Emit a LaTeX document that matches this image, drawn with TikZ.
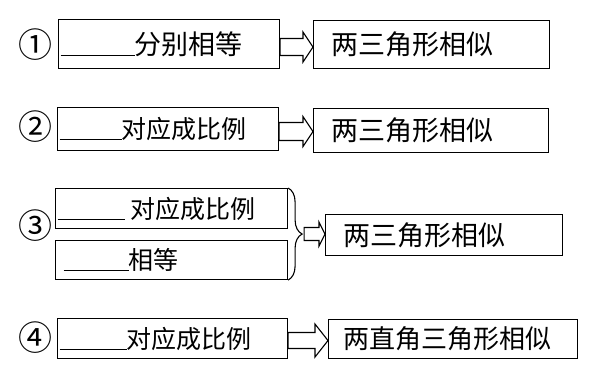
\documentclass[tikz,border=0pt]{standalone}
\usepackage{fontspec}
\setmainfont{Noto Sans CJK SC}
\usepackage{tikz}
\usetikzlibrary{calc, decorations.pathreplacing}

\newcommand{\blank}[1]{\rule[-1.5pt]{#1}{0.9pt}}
% hollow block arrow: from, to, head length, shaft half height, head half height
\newcommand{\hollowarrow}[5]{%
  \draw[arrowline] let \p1=(#1), \p2=(#2) in
    (\x1,\y1+#4) -- (\x2-#3,\y1+#4) -- (\x2-#3,\y1+#5) -- (\x2,\y1)
    -- (\x2-#3,\y1-#5) -- (\x2-#3,\y1-#4) -- (\x1,\y1-#4) -- cycle;}

\tikzset{
  box/.style={draw, line width=1.1pt, anchor=north west, inner ysep=0pt,
    align=left, font=\fontsize{25}{30}\selectfont},
  lbox/.style={box, inner xsep=2pt},
  rbox/.style={box, inner xsep=18pt, font=\fontsize{27}{32}\selectfont},
  numlabel/.style={inner sep=0pt, font=\fontsize{34}{38}\selectfont},
  arrowline/.style={line width=1.1pt, fill=white, line join=miter}
}

\begin{document}
\begin{tikzpicture}[x=1pt, y=1pt]
    \useasboundingbox (0,0) rectangle (598,370);

    % row 1
    \node[numlabel] (n1) at (36,325) {①};
    \node[lbox, minimum width=221pt, minimum height=49pt, text width=217pt,
      font=\fontsize{27}{32}\selectfont] (l1) at (58,351) {\blank{74pt}分别相等};
    \node[rbox, minimum width=236pt, minimum height=48pt, text width=200pt] (r1) at (313,350) {两三角形相似};
    \hollowarrow{[yshift=-3pt]l1.east}{r1.west}{10pt}{8.5pt}{15pt}

    % row 2
    \node[numlabel] (n2) at (36,243) {②};
    \node[lbox, minimum width=221pt, minimum height=43pt, text width=217pt] (l2) at (57,263) {\blank{62pt}对应成比例};
    \node[rbox, minimum width=235pt, minimum height=44pt, text width=199pt] (r2) at (313,262) {两三角形相似};
    \hollowarrow{[yshift=-2.5pt]l2.east}{r2.west}{10pt}{9pt}{15pt}

    % row 3
    \node[numlabel] (n3) at (36,144) {③};
    \node[lbox, minimum width=232pt, minimum height=40pt, text width=228pt] (t3) at (55,182) {\blank{67pt}\hspace{6pt}对应成比例};
    \node[lbox, minimum width=232pt, minimum height=39pt, text width=228pt] (b3) at (55,130) {\hspace{6pt}\blank{65pt}相等};
    \node[rbox, minimum width=237pt, minimum height=41pt, text width=201pt, inner xsep=17pt] (r3) at (325,156) {两三角形相似};
    \draw[line width=1.1pt, decoration={brace, amplitude=14pt}, decorate]
      (t3.north east) -- (b3.south east);
    \coordinate (tip3) at ($(t3.north east)!0.5!(b3.south east) + (16pt,0)$);
    \hollowarrow{tip3}{r3.west}{6pt}{6.5pt}{12pt}

    % row 4
    \node[numlabel] (n4) at (36,32) {④};
    \node[lbox, minimum width=230pt, minimum height=40pt, text width=226pt] (l4) at (57,52) {\blank{67pt}对应成比例};
    \node[rbox, minimum width=249pt, minimum height=39pt, text width=219pt, inner xsep=15pt,
      font=\fontsize{26}{31}\selectfont] (r4) at (328,51) {两直角三角形相似};
    \hollowarrow{[yshift=-2pt]l4.east}{r4.west}{13pt}{8pt}{16.5pt}
\end{tikzpicture}
\end{document}
